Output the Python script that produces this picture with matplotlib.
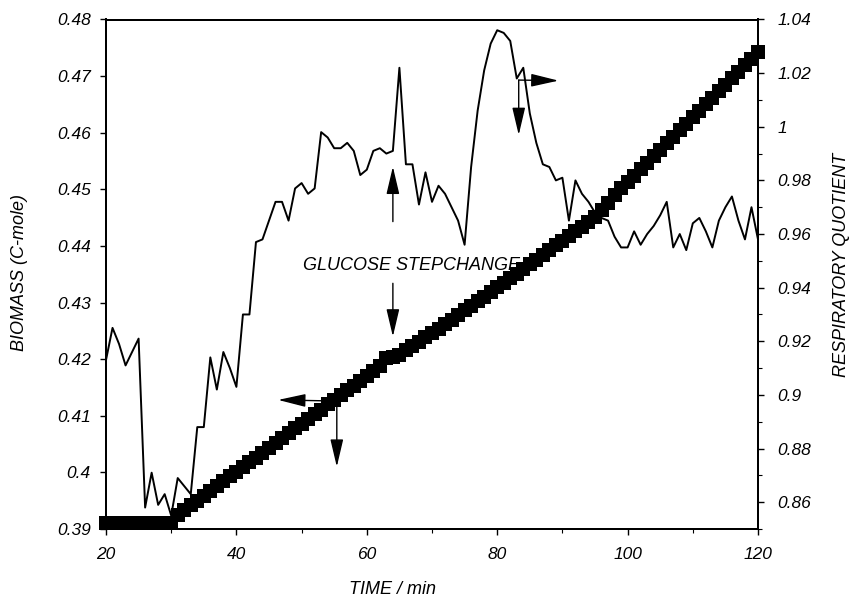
import matplotlib
matplotlib.use("Agg")
import matplotlib.pyplot as plt
from matplotlib.ticker import MultipleLocator, FuncFormatter

plt.rcParams['font.family'] = ['Liberation Sans', 'DejaVu Sans']
plt.rcParams['font.style'] = 'italic'

# ---- data ----
time_min = list(range(20, 121))

biomass = [0.3911] * 11 + [
    0.3925, 0.3934, 0.3942, 0.3950, 0.3958, 0.3967, 0.3976, 0.3984, 0.3993, 0.4001,
    0.4010, 0.4018, 0.4026, 0.4035, 0.4043, 0.4052, 0.4061, 0.4069, 0.4078, 0.4086,
    0.4094, 0.4103, 0.4111, 0.4120, 0.4128, 0.4137, 0.4146, 0.4153, 0.4162, 0.4170,
    0.4179, 0.4188, 0.4202, 0.4204, 0.4207, 0.4216, 0.4223, 0.4231, 0.4239, 0.4246,
    0.4254, 0.4262, 0.4270, 0.4278, 0.4286, 0.4294, 0.4302, 0.4310, 0.4319, 0.4327,
    0.4335, 0.4343, 0.4351, 0.4359, 0.4368, 0.4376, 0.4384, 0.4393, 0.4401, 0.4409,
    0.4418, 0.4426, 0.4434, 0.4442, 0.4451, 0.4464, 0.4476, 0.4490, 0.4502, 0.4513,
    0.4524, 0.4536, 0.4547, 0.4559, 0.4570, 0.4582, 0.4593, 0.4605, 0.4616, 0.4628,
    0.4639, 0.4651, 0.4662, 0.4674, 0.4685, 0.4697, 0.4708, 0.4720, 0.4731, 0.4743,
]

resp_quotient = [
    0.913, 0.925, 0.919, 0.911, 0.916, 0.921, 0.858, 0.871, 0.859, 0.863,
    0.855, 0.869, 0.866, 0.863, 0.888, 0.888, 0.914, 0.902, 0.916, 0.910,
    0.903, 0.930, 0.930, 0.957, 0.958, 0.965, 0.972, 0.972, 0.965, 0.977,
    0.979, 0.975, 0.977, 0.998, 0.996, 0.992, 0.992, 0.994, 0.991, 0.982,
    0.984, 0.991, 0.992, 0.990, 0.991, 1.022, 0.986, 0.986, 0.971, 0.983,
    0.972, 0.978, 0.975, 0.970, 0.965, 0.956, 0.985, 1.006, 1.021, 1.031,
    1.036, 1.035, 1.032, 1.018, 1.022, 1.005, 0.994, 0.986, 0.985, 0.980,
    0.981, 0.965, 0.980, 0.975, 0.972, 0.968, 0.966, 0.965, 0.959, 0.955,
    0.955, 0.961, 0.956, 0.960, 0.963, 0.967, 0.972, 0.955, 0.960, 0.954,
    0.964, 0.966, 0.961, 0.955, 0.965, 0.970, 0.974, 0.965, 0.958, 0.970,
    0.958,
]

x_ticks = [20, 40, 60, 80, 100, 120]
left_ticks = [0.39, 0.40, 0.41, 0.42, 0.43, 0.44, 0.45, 0.46, 0.47, 0.48]
right_ticks = [0.86, 0.88, 0.90, 0.92, 0.94, 0.96, 0.98, 1.00, 1.02, 1.04]

# ---- figure ----
fig = plt.figure(figsize=(8.54, 6.05), dpi=100)
ax = fig.add_axes([106/854, 1 - 529/605, (758-106)/854, (529-19.5)/605])
ax2 = ax.twinx()

ax.plot(time_min, biomass, linestyle='none', marker='s', markersize=10.5,
        color='black', markeredgewidth=0, clip_on=False, zorder=3)
ax2.plot(time_min, resp_quotient, color='black', lw=1.4)

ax.set_xlim(20, 120)
ax.set_ylim(0.39, 0.48)
ax2.set_ylim(0.85, 1.04)

fmt = FuncFormatter(lambda v, p: ('%g' % round(v, 4)))
ax.set_xticks(x_ticks)
ax.xaxis.set_minor_locator(MultipleLocator(10))
ax.set_yticks(left_ticks)
ax.yaxis.set_major_formatter(fmt)
ax2.set_yticks(right_ticks)
ax2.yaxis.set_major_formatter(fmt)
ax2.yaxis.set_minor_locator(MultipleLocator(0.01))

for a in (ax, ax2):
    for s in a.spines.values():
        s.set_linewidth(1.4)
    a.tick_params(which='major', direction='out', length=4, width=1.0,
                  labelsize=12.5)
    a.tick_params(which='minor', direction='out', length=3, width=0.8)
ax.tick_params(axis='x', pad=9)
ax.tick_params(axis='y', pad=7)
ax2.tick_params(axis='y', pad=10)
for lab in ax.get_xticklabels() + ax.get_yticklabels() + ax2.get_yticklabels():
    lab.set_fontstyle('italic')

# ---- labels ----
fig.text(20/854, 1 - 273/605, 'BIOMASS (C-mole)', rotation=90, ha='center',
         va='center', fontsize=13, style='italic')
fig.text(842/854, 1 - 265/605, 'RESPIRATORY QUOTIENT', rotation=90,
         ha='center', va='center', fontsize=13, style='italic')
fig.text(393/854, 1 - 590/605, 'TIME / min', ha='center', va='center',
         fontsize=13, style='italic')

ax.text(66.8, 0.4365, 'GLUCOSE STEPCHANGE', ha='center', va='center',
        fontsize=13, style='italic')

# ---- arrows ----
arr = dict(arrowstyle='-|>,head_length=1.7,head_width=0.4', color='black',
           lw=1.0, shrinkA=0, shrinkB=0, mutation_scale=10)

def arrow(x0, y0, x1, y1):
    ax.annotate('', xy=(x1, y1), xytext=(x0, y0), arrowprops=arr)

arrow(55.4, 0.4126, 46.4, 0.4128)   # left arrow from biomass
arrow(55.4, 0.4126, 55.4, 0.4010)   # down arrow
arrow(64.0, 0.4443, 64.0, 0.4540)   # glucose up arrow
arrow(64.0, 0.4334, 64.0, 0.4240)   # glucose down arrow
arrow(83.3, 0.4693, 83.3, 0.4596)   # down arrow near RQ peak
arrow(83.3, 0.4693, 89.4, 0.4692)   # right arrow to RQ axis

fig.savefig('out.png', dpi=100)
